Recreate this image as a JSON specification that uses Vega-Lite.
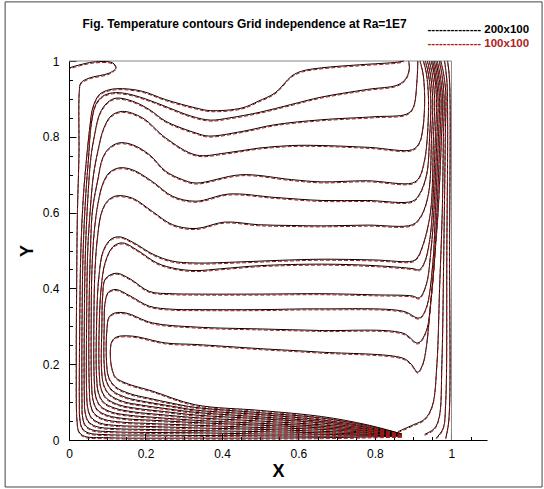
{
  "$schema": "https://vega.github.io/schema/vega-lite/v6.json",
  "autosize": "none",
  "padding": {"left": 69, "top": 61, "right": 57, "bottom": 49},
  "width": 418,
  "height": 379,
  "background": "white",
  "config": {
    "font": "Liberation Sans",
    "view": {"stroke": null},
    "axis": {"labelFont": "Liberation Sans", "titleFont": "Liberation Sans", "labelColor": "#000", "titleColor": "#000", "tickColor": "#000", "domainColor": "#000", "grid": false, "labelFlush": false, "labelOverlap": false}
  },
  "datasets": {
    "c": [
      {"s":"T0","x":0.87,"y":0.01},{"s":"T0","x":0.78,"y":0.008},{"s":"T0","x":0.66,"y":0.006},{"s":"T0","x":0.5,"y":0.005},{"s":"T0","x":0.33,"y":0.005},{"s":"T0","x":0.1,"y":0.006},{"s":"T0","x":0.04,"y":0.01},{"s":"T0","x":0.026,"y":0.022},{"s":"T0","x":0.021,"y":0.05},{"s":"T0","x":0.019,"y":0.2},{"s":"T0","x":0.02,"y":0.4},{"s":"T0","x":0.022,"y":0.6},{"s":"T0","x":0.026,"y":0.75},{"s":"T0","x":0.027,"y":0.92},{"s":"T0","x":0.031,"y":0.942},{"s":"T0","x":0.053,"y":0.955},{"s":"T0","x":0.105,"y":0.968},{"s":"T0","x":0.123,"y":0.982},{"s":"T0","x":0.114,"y":0.995},{"s":"T0","x":0.062,"y":0.997},{"s":"T0","x":0.001,"y":0.982},

      {"s":"A","x":0.87,"y":0.011},{"s":"A","x":0.78,"y":0.011},{"s":"A","x":0.66,"y":0.01},{"s":"A","x":0.5,"y":0.011},{"s":"A","x":0.33,"y":0.012},{"s":"A","x":0.2,"y":0.013},{"s":"A","x":0.1,"y":0.014},{"s":"A","x":0.05,"y":0.019},{"s":"A","x":0.034,"y":0.032},{"s":"A","x":0.028,"y":0.06},{"s":"A","x":0.027,"y":0.1},{"s":"A","x":0.028,"y":0.3},{"s":"A","x":0.031,"y":0.5},{"s":"A","x":0.038,"y":0.65},{"s":"A","x":0.046,"y":0.744},{"s":"A","x":0.055,"y":0.83},{"s":"A","x":0.062,"y":0.876},{"s":"A","x":0.079,"y":0.911},{"s":"A","x":0.105,"y":0.924},{"s":"A","x":0.14,"y":0.927},{"s":"A","x":0.192,"y":0.92},{"s":"A","x":0.253,"y":0.898},{"s":"A","x":0.332,"y":0.876},{"s":"A","x":0.37,"y":0.869},{"s":"A","x":0.452,"y":0.876},{"s":"A","x":0.495,"y":0.894},{"s":"A","x":0.539,"y":0.916},{"s":"A","x":0.582,"y":0.96},{"s":"A","x":0.608,"y":0.973},{"s":"A","x":0.661,"y":0.982},{"s":"A","x":0.76,"y":0.99},{"s":"A","x":0.86,"y":0.997},{"s":"A","x":0.875,"y":1.0},

      {"s":"B","x":0.87,"y":0.011},{"s":"B","x":0.78,"y":0.013},{"s":"B","x":0.66,"y":0.015},{"s":"B","x":0.5,"y":0.016},{"s":"B","x":0.33,"y":0.019},{"s":"B","x":0.2,"y":0.02},{"s":"B","x":0.11,"y":0.022},{"s":"B","x":0.06,"y":0.027},{"s":"B","x":0.042,"y":0.04},{"s":"B","x":0.035,"y":0.065},{"s":"B","x":0.034,"y":0.1},{"s":"B","x":0.034,"y":0.3},{"s":"B","x":0.037,"y":0.5},{"s":"B","x":0.044,"y":0.65},{"s":"B","x":0.051,"y":0.744},{"s":"B","x":0.058,"y":0.832},{"s":"B","x":0.07,"y":0.885},{"s":"B","x":0.088,"y":0.907},{"s":"B","x":0.114,"y":0.916},{"s":"B","x":0.15,"y":0.914},{"s":"B","x":0.2,"y":0.9},{"s":"B","x":0.26,"y":0.877},{"s":"B","x":0.321,"y":0.854},{"s":"B","x":0.37,"y":0.844},{"s":"B","x":0.42,"y":0.85},{"s":"B","x":0.5,"y":0.865},{"s":"B","x":0.58,"y":0.885},{"s":"B","x":0.661,"y":0.905},{"s":"B","x":0.78,"y":0.925},{"s":"B","x":0.86,"y":0.937},{"s":"B","x":0.882,"y":0.955},{"s":"B","x":0.89,"y":0.982},{"s":"B","x":0.888,"y":1.0},

      {"s":"C","x":0.87,"y":0.011},{"s":"C","x":0.78,"y":0.015},{"s":"C","x":0.66,"y":0.019},{"s":"C","x":0.5,"y":0.022},{"s":"C","x":0.33,"y":0.025},{"s":"C","x":0.2,"y":0.028},{"s":"C","x":0.12,"y":0.03},{"s":"C","x":0.07,"y":0.036},{"s":"C","x":0.05,"y":0.05},{"s":"C","x":0.042,"y":0.075},{"s":"C","x":0.04,"y":0.12},{"s":"C","x":0.04,"y":0.3},{"s":"C","x":0.043,"y":0.5},{"s":"C","x":0.05,"y":0.65},{"s":"C","x":0.057,"y":0.744},{"s":"C","x":0.066,"y":0.8},{"s":"C","x":0.08,"y":0.86},{"s":"C","x":0.1,"y":0.89},{"s":"C","x":0.123,"y":0.902},{"s":"C","x":0.166,"y":0.894},{"s":"C","x":0.21,"y":0.872},{"s":"C","x":0.253,"y":0.841},{"s":"C","x":0.332,"y":0.81},{"s":"C","x":0.365,"y":0.802},{"s":"C","x":0.452,"y":0.814},{"s":"C","x":0.539,"y":0.832},{"s":"C","x":0.661,"y":0.845},{"s":"C","x":0.8,"y":0.853},{"s":"C","x":0.883,"y":0.86},{"s":"C","x":0.9,"y":0.877},{"s":"C","x":0.91,"y":0.95},{"s":"C","x":0.912,"y":1.0},

      {"s":"D","x":0.87,"y":0.012},{"s":"D","x":0.78,"y":0.018},{"s":"D","x":0.66,"y":0.023},{"s":"D","x":0.5,"y":0.028},{"s":"D","x":0.33,"y":0.032},{"s":"D","x":0.2,"y":0.036},{"s":"D","x":0.13,"y":0.038},{"s":"D","x":0.08,"y":0.045},{"s":"D","x":0.058,"y":0.06},{"s":"D","x":0.049,"y":0.085},{"s":"D","x":0.046,"y":0.13},{"s":"D","x":0.046,"y":0.3},{"s":"D","x":0.049,"y":0.5},{"s":"D","x":0.055,"y":0.6},{"s":"D","x":0.064,"y":0.7},{"s":"D","x":0.075,"y":0.76},{"s":"D","x":0.09,"y":0.82},{"s":"D","x":0.11,"y":0.855},{"s":"D","x":0.14,"y":0.867},{"s":"D","x":0.192,"y":0.85},{"s":"D","x":0.253,"y":0.797},{"s":"D","x":0.332,"y":0.752},{"s":"D","x":0.408,"y":0.757},{"s":"D","x":0.495,"y":0.77},{"s":"D","x":0.582,"y":0.777},{"s":"D","x":0.661,"y":0.777},{"s":"D","x":0.786,"y":0.772},{"s":"D","x":0.898,"y":0.766},{"s":"D","x":0.916,"y":0.784},{"s":"D","x":0.925,"y":0.82},{"s":"D","x":0.93,"y":0.9},{"s":"D","x":0.926,"y":0.965},{"s":"D","x":0.918,"y":1.0},

      {"s":"E","x":0.87,"y":0.012},{"s":"E","x":0.78,"y":0.02},{"s":"E","x":0.66,"y":0.028},{"s":"E","x":0.5,"y":0.033},{"s":"E","x":0.33,"y":0.039},{"s":"E","x":0.2,"y":0.044},{"s":"E","x":0.14,"y":0.047},{"s":"E","x":0.09,"y":0.055},{"s":"E","x":0.066,"y":0.07},{"s":"E","x":0.056,"y":0.095},{"s":"E","x":0.053,"y":0.14},{"s":"E","x":0.052,"y":0.3},{"s":"E","x":0.056,"y":0.5},{"s":"E","x":0.062,"y":0.612},{"s":"E","x":0.076,"y":0.69},{"s":"E","x":0.088,"y":0.744},{"s":"E","x":0.105,"y":0.77},{"s":"E","x":0.131,"y":0.784},{"s":"E","x":0.166,"y":0.779},{"s":"E","x":0.21,"y":0.753},{"s":"E","x":0.253,"y":0.709},{"s":"E","x":0.297,"y":0.687},{"s":"E","x":0.332,"y":0.678},{"s":"E","x":0.452,"y":0.7},{"s":"E","x":0.582,"y":0.687},{"s":"E","x":0.661,"y":0.681},{"s":"E","x":0.78,"y":0.684},{"s":"E","x":0.898,"y":0.678},{"s":"E","x":0.916,"y":0.693},{"s":"E","x":0.93,"y":0.74},{"s":"E","x":0.937,"y":0.8},{"s":"E","x":0.94,"y":0.9},{"s":"E","x":0.935,"y":0.965},{"s":"E","x":0.927,"y":1.0},

      {"s":"F","x":0.87,"y":0.013},{"s":"F","x":0.78,"y":0.023},{"s":"F","x":0.66,"y":0.032},{"s":"F","x":0.5,"y":0.039},{"s":"F","x":0.33,"y":0.046},{"s":"F","x":0.22,"y":0.052},{"s":"F","x":0.15,"y":0.056},{"s":"F","x":0.1,"y":0.065},{"s":"F","x":0.074,"y":0.08},{"s":"F","x":0.063,"y":0.105},{"s":"F","x":0.059,"y":0.15},{"s":"F","x":0.058,"y":0.3},{"s":"F","x":0.06,"y":0.45},{"s":"F","x":0.066,"y":0.55},{"s":"F","x":0.075,"y":0.62},{"s":"F","x":0.088,"y":0.675},{"s":"F","x":0.105,"y":0.705},{"s":"F","x":0.131,"y":0.718},{"s":"F","x":0.166,"y":0.713},{"s":"F","x":0.218,"y":0.682},{"s":"F","x":0.271,"y":0.643},{"s":"F","x":0.332,"y":0.63},{"s":"F","x":0.418,"y":0.649},{"s":"F","x":0.539,"y":0.64},{"s":"F","x":0.661,"y":0.632},{"s":"F","x":0.78,"y":0.632},{"s":"F","x":0.898,"y":0.63},{"s":"F","x":0.916,"y":0.648},{"s":"F","x":0.935,"y":0.7},{"s":"F","x":0.943,"y":0.8},{"s":"F","x":0.946,"y":0.9},{"s":"F","x":0.94,"y":0.965},{"s":"F","x":0.932,"y":1.0},

      {"s":"G","x":0.87,"y":0.013},{"s":"G","x":0.78,"y":0.025},{"s":"G","x":0.66,"y":0.036},{"s":"G","x":0.5,"y":0.044},{"s":"G","x":0.33,"y":0.052},{"s":"G","x":0.22,"y":0.06},{"s":"G","x":0.16,"y":0.065},{"s":"G","x":0.11,"y":0.074},{"s":"G","x":0.082,"y":0.09},{"s":"G","x":0.07,"y":0.115},{"s":"G","x":0.066,"y":0.16},{"s":"G","x":0.065,"y":0.3},{"s":"G","x":0.068,"y":0.45},{"s":"G","x":0.075,"y":0.54},{"s":"G","x":0.085,"y":0.6},{"s":"G","x":0.1,"y":0.63},{"s":"G","x":0.123,"y":0.644},{"s":"G","x":0.166,"y":0.638},{"s":"G","x":0.218,"y":0.603},{"s":"G","x":0.271,"y":0.568},{"s":"G","x":0.332,"y":0.558},{"s":"G","x":0.407,"y":0.575},{"s":"G","x":0.495,"y":0.568},{"s":"G","x":0.582,"y":0.566},{"s":"G","x":0.661,"y":0.565},{"s":"G","x":0.78,"y":0.567},{"s":"G","x":0.898,"y":0.568},{"s":"G","x":0.92,"y":0.59},{"s":"G","x":0.94,"y":0.65},{"s":"G","x":0.948,"y":0.8},{"s":"G","x":0.951,"y":0.9},{"s":"G","x":0.945,"y":0.965},{"s":"G","x":0.937,"y":1.0},

      {"s":"H","x":0.87,"y":0.014},{"s":"H","x":0.78,"y":0.028},{"s":"H","x":0.66,"y":0.04},{"s":"H","x":0.5,"y":0.05},{"s":"H","x":0.33,"y":0.059},{"s":"H","x":0.24,"y":0.067},{"s":"H","x":0.17,"y":0.074},{"s":"H","x":0.12,"y":0.084},{"s":"H","x":0.09,"y":0.1},{"s":"H","x":0.077,"y":0.125},{"s":"H","x":0.072,"y":0.17},{"s":"H","x":0.072,"y":0.3},{"s":"H","x":0.078,"y":0.43},{"s":"H","x":0.09,"y":0.5},{"s":"H","x":0.11,"y":0.53},{"s":"H","x":0.133,"y":0.536},{"s":"H","x":0.17,"y":0.52},{"s":"H","x":0.22,"y":0.49},{"s":"H","x":0.27,"y":0.472},{"s":"H","x":0.332,"y":0.467},{"s":"H","x":0.45,"y":0.47},{"s":"H","x":0.55,"y":0.474},{"s":"H","x":0.661,"y":0.477},{"s":"H","x":0.8,"y":0.475},{"s":"H","x":0.898,"y":0.472},{"s":"H","x":0.91,"y":0.48},{"s":"H","x":0.924,"y":0.51},{"s":"H","x":0.945,"y":0.6},{"s":"H","x":0.953,"y":0.8},{"s":"H","x":0.956,"y":0.9},{"s":"H","x":0.95,"y":0.965},{"s":"H","x":0.942,"y":1.0},

      {"s":"I","x":0.87,"y":0.014},{"s":"I","x":0.78,"y":0.03},{"s":"I","x":0.66,"y":0.045},{"s":"I","x":0.5,"y":0.056},{"s":"I","x":0.33,"y":0.066},{"s":"I","x":0.25,"y":0.075},{"s":"I","x":0.18,"y":0.083},{"s":"I","x":0.13,"y":0.093},{"s":"I","x":0.098,"y":0.11},{"s":"I","x":0.084,"y":0.135},{"s":"I","x":0.079,"y":0.18},{"s":"I","x":0.079,"y":0.3},{"s":"I","x":0.084,"y":0.4},{"s":"I","x":0.095,"y":0.47},{"s":"I","x":0.115,"y":0.51},{"s":"I","x":0.14,"y":0.52},{"s":"I","x":0.18,"y":0.5},{"s":"I","x":0.23,"y":0.467},{"s":"I","x":0.28,"y":0.452},{"s":"I","x":0.332,"y":0.447},{"s":"I","x":0.4,"y":0.452},{"s":"I","x":0.5,"y":0.46},{"s":"I","x":0.661,"y":0.464},{"s":"I","x":0.8,"y":0.46},{"s":"I","x":0.9,"y":0.452},{"s":"I","x":0.916,"y":0.449},{"s":"I","x":0.93,"y":0.47},{"s":"I","x":0.942,"y":0.52},{"s":"I","x":0.95,"y":0.6},{"s":"I","x":0.958,"y":0.8},{"s":"I","x":0.961,"y":0.9},{"s":"I","x":0.955,"y":0.965},{"s":"I","x":0.947,"y":1.0},

      {"s":"J","x":0.87,"y":0.015},{"s":"J","x":0.78,"y":0.033},{"s":"J","x":0.66,"y":0.049},{"s":"J","x":0.5,"y":0.061},{"s":"J","x":0.33,"y":0.073},{"s":"J","x":0.26,"y":0.082},{"s":"J","x":0.19,"y":0.092},{"s":"J","x":0.14,"y":0.102},{"s":"J","x":0.106,"y":0.12},{"s":"J","x":0.091,"y":0.145},{"s":"J","x":0.085,"y":0.19},{"s":"J","x":0.086,"y":0.3},{"s":"J","x":0.088,"y":0.38},{"s":"J","x":0.095,"y":0.425},{"s":"J","x":0.123,"y":0.44},{"s":"J","x":0.16,"y":0.425},{"s":"J","x":0.21,"y":0.392},{"s":"J","x":0.27,"y":0.386},{"s":"J","x":0.332,"y":0.385},{"s":"J","x":0.5,"y":0.385},{"s":"J","x":0.661,"y":0.386},{"s":"J","x":0.8,"y":0.383},{"s":"J","x":0.898,"y":0.38},{"s":"J","x":0.916,"y":0.375},{"s":"J","x":0.934,"y":0.41},{"s":"J","x":0.947,"y":0.507},{"s":"J","x":0.954,"y":0.6},{"s":"J","x":0.962,"y":0.8},{"s":"J","x":0.965,"y":0.9},{"s":"J","x":0.958,"y":0.965},{"s":"J","x":0.951,"y":1.0},

      {"s":"K","x":0.87,"y":0.015},{"s":"K","x":0.78,"y":0.035},{"s":"K","x":0.66,"y":0.053},{"s":"K","x":0.5,"y":0.067},{"s":"K","x":0.33,"y":0.079},{"s":"K","x":0.27,"y":0.089},{"s":"K","x":0.2,"y":0.101},{"s":"K","x":0.15,"y":0.112},{"s":"K","x":0.114,"y":0.13},{"s":"K","x":0.098,"y":0.155},{"s":"K","x":0.092,"y":0.2},{"s":"K","x":0.092,"y":0.3},{"s":"K","x":0.094,"y":0.36},{"s":"K","x":0.103,"y":0.39},{"s":"K","x":0.123,"y":0.397},{"s":"K","x":0.16,"y":0.38},{"s":"K","x":0.21,"y":0.353},{"s":"K","x":0.27,"y":0.345},{"s":"K","x":0.332,"y":0.344},{"s":"K","x":0.5,"y":0.344},{"s":"K","x":0.655,"y":0.346},{"s":"K","x":0.873,"y":0.34},{"s":"K","x":0.916,"y":0.322},{"s":"K","x":0.934,"y":0.348},{"s":"K","x":0.951,"y":0.463},{"s":"K","x":0.958,"y":0.6},{"s":"K","x":0.966,"y":0.8},{"s":"K","x":0.969,"y":0.9},{"s":"K","x":0.962,"y":0.965},{"s":"K","x":0.955,"y":1.0},

      {"s":"L","x":0.87,"y":0.016},{"s":"L","x":0.78,"y":0.038},{"s":"L","x":0.66,"y":0.058},{"s":"L","x":0.5,"y":0.072},{"s":"L","x":0.33,"y":0.086},{"s":"L","x":0.27,"y":0.097},{"s":"L","x":0.21,"y":0.11},{"s":"L","x":0.16,"y":0.122},{"s":"L","x":0.122,"y":0.14},{"s":"L","x":0.104,"y":0.165},{"s":"L","x":0.098,"y":0.21},{"s":"L","x":0.099,"y":0.29},{"s":"L","x":0.105,"y":0.325},{"s":"L","x":0.12,"y":0.335},{"s":"L","x":0.149,"y":0.335},{"s":"L","x":0.218,"y":0.309},{"s":"L","x":0.332,"y":0.298},{"s":"L","x":0.5,"y":0.293},{"s":"L","x":0.655,"y":0.289},{"s":"L","x":0.873,"y":0.282},{"s":"L","x":0.912,"y":0.256},{"s":"L","x":0.934,"y":0.287},{"s":"L","x":0.947,"y":0.375},{"s":"L","x":0.956,"y":0.48},{"s":"L","x":0.962,"y":0.6},{"s":"L","x":0.97,"y":0.8},{"s":"L","x":0.973,"y":0.9},{"s":"L","x":0.966,"y":0.965},{"s":"L","x":0.959,"y":1.0},

      {"s":"M","x":0.87,"y":0.016},{"s":"M","x":0.78,"y":0.04},{"s":"M","x":0.66,"y":0.062},{"s":"M","x":0.5,"y":0.078},{"s":"M","x":0.33,"y":0.093},{"s":"M","x":0.218,"y":0.129},{"s":"M","x":0.149,"y":0.15},{"s":"M","x":0.122,"y":0.165},{"s":"M","x":0.112,"y":0.19},{"s":"M","x":0.108,"y":0.23},{"s":"M","x":0.112,"y":0.26},{"s":"M","x":0.125,"y":0.272},{"s":"M","x":0.166,"y":0.274},{"s":"M","x":0.253,"y":0.256},{"s":"M","x":0.332,"y":0.252},{"s":"M","x":0.5,"y":0.241},{"s":"M","x":0.655,"y":0.232},{"s":"M","x":0.873,"y":0.216},{"s":"M","x":0.895,"y":0.2},{"s":"M","x":0.912,"y":0.179},{"s":"M","x":0.925,"y":0.2},{"s":"M","x":0.934,"y":0.243},{"s":"M","x":0.943,"y":0.331},{"s":"M","x":0.951,"y":0.42},{"s":"M","x":0.958,"y":0.507},{"s":"M","x":0.965,"y":0.6},{"s":"M","x":0.974,"y":0.8},{"s":"M","x":0.977,"y":0.9},{"s":"M","x":0.97,"y":0.965},{"s":"M","x":0.963,"y":1.0},

      {"s":"R1","x":0.86,"y":0.022},{"s":"R1","x":0.9,"y":0.04},{"s":"R1","x":0.93,"y":0.055},{"s":"R1","x":0.95,"y":0.09},{"s":"R1","x":0.962,"y":0.2},{"s":"R1","x":0.969,"y":0.4},{"s":"R1","x":0.976,"y":0.6},{"s":"R1","x":0.979,"y":0.8},{"s":"R1","x":0.981,"y":0.9},{"s":"R1","x":0.975,"y":0.965},{"s":"R1","x":0.968,"y":1.0},
      {"s":"R2","x":0.93,"y":0.015},{"s":"R2","x":0.955,"y":0.03},{"s":"R2","x":0.968,"y":0.06},{"s":"R2","x":0.975,"y":0.2},{"s":"R2","x":0.98,"y":0.5},{"s":"R2","x":0.984,"y":0.8},{"s":"R2","x":0.985,"y":0.92},{"s":"R2","x":0.978,"y":0.975},{"s":"R2","x":0.972,"y":1.0},
      {"s":"R3","x":0.96,"y":0.005},{"s":"R3","x":0.978,"y":0.03},{"s":"R3","x":0.985,"y":0.1},{"s":"R3","x":0.988,"y":0.5},{"s":"R3","x":0.99,"y":0.85},{"s":"R3","x":0.988,"y":0.95},{"s":"R3","x":0.982,"y":1.0},
      {"s":"R4","x":0.985,"y":0.005},{"s":"R4","x":0.993,"y":0.05},{"s":"R4","x":0.995,"y":0.5},{"s":"R4","x":0.995,"y":0.95},{"s":"R4","x":0.99,"y":1.0}
    ]
  },
  "layer": [
    {
      "data": {"values": [{}]},
      "mark": {"type": "rect", "filled": false, "stroke": "#444444", "strokeWidth": 1},
      "encoding": {
        "x": {"datum": -0.167, "type": "quantitative", "scale": {"domain": [0, 1.093]}, "axis": null},
        "x2": {"datum": 1.237},
        "y": {"datum": -0.124, "type": "quantitative", "scale": {"domain": [0, 1]}, "axis": null},
        "y2": {"datum": 1.156}
      }
    },
    {
      "data": {"values": [{}]},
      "mark": {"type": "rule", "color": "#888888", "strokeWidth": 1},
      "encoding": {
        "x": {"datum": 1, "type": "quantitative", "scale": {"domain": [0, 1.093]},
          "axis": {"orient": "top", "title": "Fig. Temperature contours Grid independence at Ra=1E7", "titleX": 13, "titleY": -33.5, "titleAlign": "left", "titleAngle": 0, "titleBaseline": "alphabetic", "titleFontSize": 12, "titleFontWeight": "bold", "domain": false, "ticks": false, "labels": false}},
        "y": {"datum": 0, "type": "quantitative", "scale": {"domain": [0, 1]}, "axis": null},
        "y2": {"datum": 1}
      }
    },
    {
      "data": {"values": [{}]},
      "mark": {"type": "rule", "color": "#888888", "strokeWidth": 1},
      "encoding": {
        "x": {"datum": 0, "type": "quantitative", "scale": {"domain": [0, 1.093]}, "axis": null},
        "x2": {"datum": 1},
        "y": {"datum": 1, "type": "quantitative", "scale": {"domain": [0, 1]}, "axis": null}
      }
    },
    {
      "data": {"name": "c"},
      "transform": [{"window": [{"op": "row_number", "as": "o"}]}],
      "mark": {"type": "line", "strokeWidth": 1, "interpolate": "catmull-rom"},
      "encoding": {
        "x": {"field": "x", "type": "quantitative", "scale": {"domain": [0, 1.093]},
          "axis": {"orient": "bottom", "values": [0, 0.2, 0.4, 0.6, 0.8, 1], "format": "~g", "tickSize": -7, "labelPadding": 15, "labelFontSize": 12, "title": "X", "titleFontSize": 18, "titleFontWeight": "bold", "titlePadding": 3}},
        "y": {"field": "y", "type": "quantitative", "scale": {"domain": [0, 1]},
          "axis": {"orient": "left", "values": [0, 0.2, 0.4, 0.6, 0.8, 1], "format": "~g", "tickSize": -7, "labelPadding": 17, "labelFontSize": 12, "title": "Y", "titleFontSize": 18, "titleFontWeight": "bold", "titlePadding": 6}},
        "detail": {"field": "s"},
        "order": {"field": "o"},
        "color": {"datum": "200x100", "type": "nominal", "scale": {"domain": ["200x100", "100x100"], "range": ["#000000", "#a01818"]},
          "legend": {"orient": "none", "legendX": 347, "legendY": -37, "title": null, "symbolOpacity": 0, "symbolSize": 0, "symbolStrokeWidth": 0, "labelOffset": 0, "padding": 0, "rowPadding": 1, "labelFont": "Liberation Sans", "labelFontSize": 11.5, "labelFontWeight": "bold", "labelLimit": 0, "labelExpr": "'-------------- ' + datum.label",
            "encode": {"labels": {"update": {"fill": {"signal": "datum.value === '100x100' ? '#b01c1c' : '#000000'"}}}}}}
      }
    },
    {
      "data": {"name": "c"},
      "transform": [{"window": [{"op": "row_number", "as": "o"}]}],
      "mark": {"type": "line", "strokeWidth": 1, "strokeDash": [4, 2], "yOffset": 1, "interpolate": "catmull-rom"},
      "encoding": {
        "x": {"field": "x", "type": "quantitative", "scale": {"domain": [0, 1.093]},
          "axis": {"orient": "bottom", "values": [0.05, 0.1, 0.15, 0.2, 0.25, 0.3, 0.35, 0.4, 0.45, 0.5, 0.55, 0.6, 0.65, 0.7, 0.75, 0.8, 0.85, 0.9, 0.95, 1, 1.05], "tickSize": -3.5, "labels": false, "domain": false, "title": null}},
        "y": {"field": "y", "type": "quantitative", "scale": {"domain": [0, 1]},
          "axis": {"orient": "left", "values": [0.05, 0.1, 0.15, 0.2, 0.25, 0.3, 0.35, 0.4, 0.45, 0.5, 0.55, 0.6, 0.65, 0.7, 0.75, 0.8, 0.85, 0.9, 0.95, 1], "tickSize": -3.5, "labels": false, "domain": false, "title": null}},
        "detail": {"field": "s"},
        "order": {"field": "o"},
        "color": {"datum": "100x100", "type": "nominal", "scale": {"domain": ["200x100", "100x100"], "range": ["#000000", "#a01818"]},
          "legend": {"orient": "none", "legendX": 347, "legendY": -37, "title": null, "symbolOpacity": 0, "symbolSize": 0, "symbolStrokeWidth": 0, "labelOffset": 0, "padding": 0, "rowPadding": 1, "labelFont": "Liberation Sans", "labelFontSize": 11.5, "labelFontWeight": "bold", "labelLimit": 0, "labelExpr": "'-------------- ' + datum.label",
            "encode": {"labels": {"update": {"fill": {"signal": "datum.value === '100x100' ? '#b01c1c' : '#000000'"}}}}}}
      }
    }
  ],
  "resolve": {"axis": {"x": "independent", "y": "independent"}}
}
